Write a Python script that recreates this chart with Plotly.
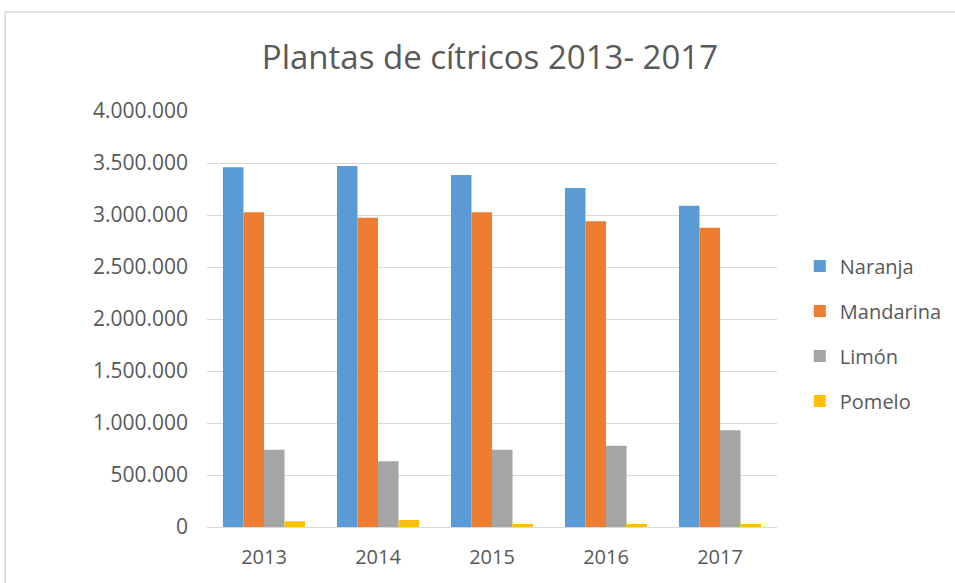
import plotly.graph_objects as go

years = ["2013", "2014", "2015", "2016", "2017"]
naranja = [3460000, 3470000, 3385000, 3260000, 3090000]
mandarina = [3026000, 2974000, 3026000, 2939000, 2878000]
limon = [743000, 632000, 743000, 782000, 930000]
pomelo = [55000, 67000, 29000, 29000, 29000]

series = [
    ("Naranja", naranja, "#5B9BD5"),
    ("Mandarina", mandarina, "#ED7D31"),
    ("Limón", limon, "#A5A5A5"),
    ("Pomelo", pomelo, "#FFC000"),
]

fig = go.Figure()
for i, (name, vals, col) in enumerate(series):
    fig.add_trace(go.Bar(x=years, y=vals, name=name, marker_color=col,
                         marker_line_width=0, legendgroup=f"g{i}"))

font_family = "Open Sans, Liberation Sans, sans-serif"
fig.update_layout(
    width=955, height=583,
    margin=dict(l=207, r=178, t=111, b=56, autoexpand=False),
    paper_bgcolor="white", plot_bgcolor="white",
    separators=",.",
    barmode="group", bargap=0.28, bargroupgap=0,
    title=dict(text="Plantas de cítricos 2013- 2017", x=0.513, xanchor="center",
               y=0.902, yanchor="middle",
               font=dict(family=font_family, size=33, color="#595959")),
    font=dict(family=font_family, size=20, color="#595959"),
    legend=dict(x=1.04, xanchor="left", y=0.465, yanchor="middle",
                traceorder="grouped", tracegroupgap=16,
                font=dict(size=20, color="#595959")),
    xaxis=dict(showline=True, linecolor="#D9D9D9", linewidth=1, ticks="",
               ticklabelstandoff=12,
               tickfont=dict(size=20, color="#595959")),
    yaxis=dict(range=[0, 4000000], dtick=500000, tickformat=",d",
               gridcolor="#D9D9D9", gridwidth=1, zeroline=False,
               ticks="", ticklen=0, ticklabelstandoff=18,
               tickfont=dict(size=21, color="#595959")),
    shapes=[dict(type="rect", xref="paper", yref="paper",
                 x0=-0.354, x1=2, y0=-1, y1=1.238,
                 line=dict(color="#D9D9D9", width=1.5), fillcolor="rgba(0,0,0,0)",
                 layer="below")],
)

fig.write_html("out.html", config={"displayModeBar": False},
               post_script="document.body.style.margin='0';")
